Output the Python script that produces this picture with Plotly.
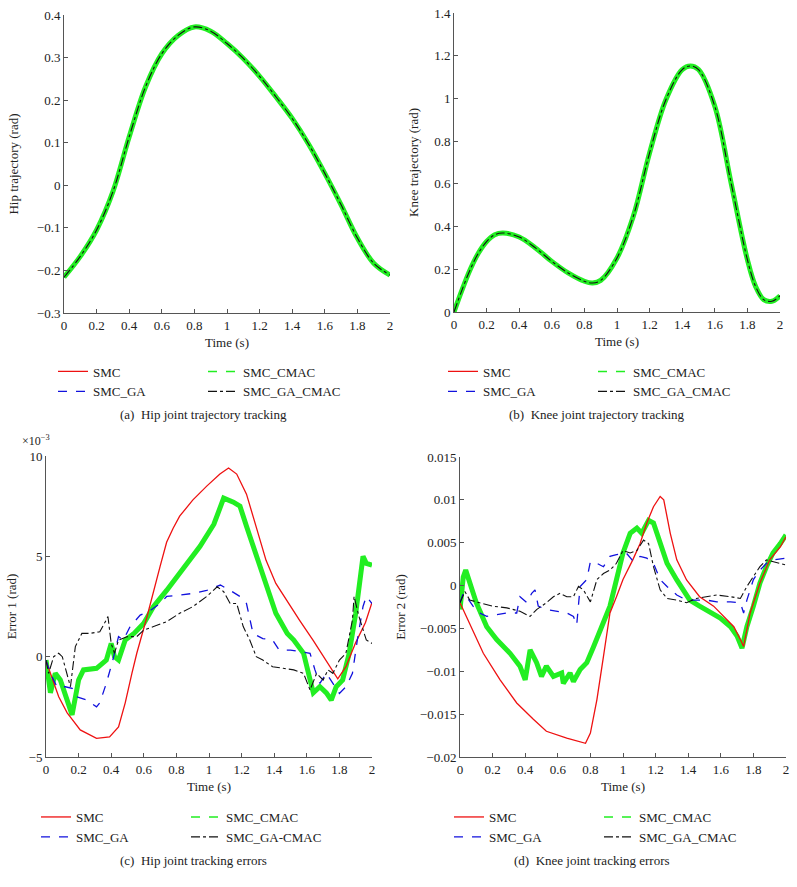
import plotly.graph_objects as go

FONT = "Liberation Serif"
W, H = 797, 887
TXT = "#222222"
AX = "#555555"

# ---------------- (a) hip trajectory (rad) ----------------
hip_t = [0, 0.1, 0.2, 0.3, 0.4, 0.5, 0.6, 0.7, 0.8, 0.9, 1.0, 1.1, 1.2, 1.3, 1.4, 1.5, 1.6, 1.7, 1.8, 1.9, 2.0]
hip_traj = [-0.216, -0.167, -0.105, -0.015, 0.114, 0.231, 0.309, 0.352, 0.372, 0.362, 0.333, 0.298,
            0.256, 0.208, 0.157, 0.097, 0.028, -0.046, -0.124, -0.183, -0.211]

# ---------------- (b) knee trajectory (rad) ----------------
knee_t = [0, 0.05, 0.1, 0.15, 0.2, 0.25, 0.3, 0.4, 0.5, 0.6, 0.7, 0.8, 0.85, 0.9, 1.0, 1.1, 1.2, 1.3,
          1.4, 1.45, 1.5, 1.6, 1.7, 1.8, 1.85, 1.9, 1.95, 2.0]
knee_traj = [0.0, 0.105, 0.2, 0.276, 0.33, 0.362, 0.37, 0.351, 0.30, 0.237, 0.183, 0.144, 0.136, 0.148,
             0.253, 0.448, 0.745, 0.994, 1.135, 1.152, 1.135, 0.963, 0.604, 0.245, 0.12, 0.058, 0.05, 0.076]

# ---------------- (c) hip tracking errors (x 10^-3 rad) ----------------
e1_smc_t = [0, 0.047, 0.078, 0.13, 0.21, 0.31, 0.39, 0.445, 0.486, 0.527, 0.557, 0.62, 0.66, 0.7, 0.74,
            0.78, 0.82, 0.9, 0.986, 1.067, 1.12, 1.17, 1.23, 1.29, 1.35, 1.41, 1.476, 1.557, 1.64, 1.72,
            1.77, 1.79, 1.84, 1.9, 1.96, 2.0]
e1_smc = [-0.2, -1.3, -2.0, -2.8, -3.65, -4.07, -4.0, -3.5, -2.3, -0.83, 0.17, 2.0, 3.3, 4.5, 5.7,
          6.4, 7.0, 7.8, 8.5, 9.1, 9.4, 9.1, 8.1, 6.4, 4.8, 3.65, 2.8, 1.8, 0.8, -0.2,
          -0.8, -1.1, -0.5, 0.7, 1.7, 2.7]

e1_ga_t = [0, 0.027, 0.067, 0.118, 0.16, 0.19, 0.25, 0.31, 0.33, 0.37, 0.41, 0.445, 0.475, 0.516, 0.578,
           0.64, 0.7, 0.74, 0.82, 0.9, 0.986, 1.07, 1.13, 1.19, 1.23, 1.27, 1.33, 1.39, 1.43, 1.5, 1.557,
           1.62, 1.65, 1.68, 1.72, 1.76, 1.8, 1.84, 1.88, 1.91, 1.945, 1.965, 2.0]
e1_ga = [-0.17, -0.83, -1.5, -1.5, -1.58, -2.0, -2.16, -2.5, -2.3, -1.33, -0.17, 1.0, 0.83, 1.5, 2.07,
         2.3, 2.65, 3.0, 3.07, 3.15, 3.3, 3.57, 3.3, 3.0, 2.65, 1.16, 0.9, 0.83, 0.33, 0.33, 0.25,
         0.17, -0.66, -1.33, -0.83, -1.33, -1.83, -1.5, -0.83, 0.83, 2.5, 3.0, 2.65]

e1_cmac_t = [0, 0.027, 0.057, 0.088, 0.16, 0.2, 0.23, 0.31, 0.37, 0.4, 0.42, 0.445, 0.486, 0.54, 0.6,
             0.66, 0.74, 0.82, 0.86, 0.945, 1.03, 1.09, 1.15, 1.19, 1.23, 1.29, 1.35, 1.41, 1.48, 1.52,
             1.58, 1.64, 1.68, 1.72, 1.75, 1.78, 1.82, 1.86, 1.9, 1.945, 1.965, 2.0]
e1_cmac = [-0.17, -1.8, -0.83, -1.16, -2.9, -1.16, -0.66, -0.58, -0.17, 0.66, 0.0, -0.17, 0.83, 1.16, 1.66,
           2.5, 3.3, 4.15, 4.5, 5.5, 6.6, 7.9, 7.7, 7.5, 6.5, 5.0, 3.65, 2.16, 1.16, 0.83,
           0.17, -1.8, -1.5, -1.8, -2.16, -1.5, -1.16, 0.17, 2.16, 5.0, 4.65, 4.56]

e1_gacmac_t = [0, 0.016, 0.047, 0.078, 0.1, 0.13, 0.15, 0.18, 0.22, 0.27, 0.33, 0.37, 0.38, 0.4, 0.42,
               0.445, 0.5, 0.557, 0.6, 0.66, 0.74, 0.82, 0.9, 0.986, 1.05, 1.09, 1.13, 1.17, 1.21, 1.25,
               1.29, 1.33, 1.39, 1.455, 1.52, 1.58, 1.62, 1.66, 1.7, 1.73, 1.76, 1.8, 1.84, 1.88, 1.89,
               1.92, 1.965, 2.0]
e1_gacmac = [-0.17, -0.83, 0.0, 0.17, 0.0, -0.83, -1.5, 0.5, 1.16, 1.16, 1.24, 1.83, 2.0, 0.66, 0.17,
             0.83, 1.0, 1.0, 1.33, 1.5, 1.74, 2.16, 2.49, 3.0, 3.48, 3.24, 2.65, 2.65, 1.5, 0.83,
             0.0, -0.17, -0.5, -0.58, -0.66, -0.83, -1.66, -0.83, -1.16, -0.66, -0.83, -0.17, 0.17, 1.83, 3.0,
             2.0, 0.83, 0.66]

# ---------------- (d) knee tracking errors (rad) ----------------
e2_smc_t = [0, 0.02, 0.143, 0.246, 0.348, 0.45, 0.53, 0.655, 0.737, 0.77, 0.8, 0.84, 0.88, 0.92, 0.96,
            1.0, 1.06, 1.105, 1.146, 1.187, 1.228, 1.25, 1.29, 1.33, 1.39, 1.47, 1.556, 1.617, 1.68,
            1.72, 1.74, 1.78, 1.84, 1.9, 1.965, 2.0]
e2_smc = [-0.002, -0.0028, -0.0079, -0.011, -0.0137, -0.0156, -0.017, -0.0178, -0.0182, -0.0184, -0.0172,
          -0.0133, -0.0083, -0.0032, -0.0013, 0.0007, 0.003, 0.0049, 0.0073, 0.0092, 0.0104, 0.010,
          0.0061, 0.003, 0.00066, -0.0013, -0.0024, -0.0036, -0.0048, -0.0063, -0.0071, -0.0032,
          0.0003, 0.003, 0.0045, 0.0057]

e2_ga_t = [0, 0.02, 0.04, 0.08, 0.12, 0.164, 0.225, 0.287, 0.348, 0.368, 0.41, 0.44, 0.46, 0.48, 0.53,
           0.594, 0.655, 0.696, 0.716, 0.737, 0.778, 0.8, 0.84, 0.88, 0.92, 0.96, 1.02, 1.064, 1.105,
           1.146, 1.187, 1.228, 1.27, 1.33, 1.39, 1.45, 1.515, 1.576, 1.66, 1.72, 1.74, 1.76, 1.8,
           1.84, 1.88, 1.92, 2.0]
e2_ga = [-0.002, -0.0009, -0.0013, -0.0024, -0.0032, -0.0036, -0.0034, -0.0032, -0.0032, -0.0013, -0.002,
         -0.0009, -0.0005, -0.0024, -0.0028, -0.003, -0.0032, -0.0036, -0.0046, -0.0001, 0.0007, 0.0028,
         0.0026, 0.0022, 0.0034, 0.0036, 0.0038, 0.0028, 0.0034, 0.0032, 0.0026, 0.0007, -0.0001,
         -0.0011, -0.0017, -0.0017, -0.0017, -0.0019, -0.0019, -0.002, -0.0032, -0.0017, 0.0007,
         0.0018, 0.0026, 0.003, 0.0032]

e2_cmac_t = [0, 0.02, 0.035, 0.06, 0.1, 0.164, 0.225, 0.307, 0.368, 0.4, 0.43, 0.47, 0.5, 0.53, 0.573,
             0.624, 0.634, 0.675, 0.696, 0.737, 0.778, 0.82, 0.86, 0.92, 0.96, 1.0, 1.044, 1.085, 1.115,
             1.157, 1.187, 1.228, 1.27, 1.33, 1.41, 1.47, 1.535, 1.597, 1.66, 1.7, 1.73, 1.76, 1.8,
             1.84, 1.88, 1.92, 1.965, 2.0]
e2_cmac = [-0.0028, 0.001, 0.0018, 0.0003, -0.002, -0.0048, -0.0063, -0.0079, -0.0094, -0.011, -0.0075,
           -0.009, -0.0106, -0.0094, -0.0106, -0.0102, -0.0114, -0.0102, -0.0112, -0.0098, -0.009,
           -0.0071, -0.0052, -0.0024, 0.0007, 0.0038, 0.0061, 0.0067, 0.0061, 0.0076, 0.0073, 0.0049,
           0.0026, 0.00066, -0.0017, -0.0024, -0.0032, -0.0038, -0.0048, -0.0059, -0.0073, -0.0048,
           -0.0024, 0.0003, 0.0022, 0.0038, 0.0049, 0.0059]

e2_gacmac_t = [0, 0.03, 0.06, 0.12, 0.2, 0.287, 0.368, 0.43, 0.47, 0.53, 0.573, 0.614, 0.655, 0.696,
               0.727, 0.757, 0.8, 0.84, 0.88, 0.92, 0.96, 1.0, 1.044, 1.085, 1.126, 1.157, 1.187, 1.228,
               1.27, 1.33, 1.39, 1.45, 1.515, 1.576, 1.66, 1.72, 1.76, 1.8, 1.84, 1.88, 1.92, 2.0]
e2_gacmac = [-0.002, -0.0007, -0.0017, -0.002, -0.0024, -0.0026, -0.003, -0.0036, -0.0028, -0.002,
             -0.0013, -0.0009, -0.0013, -0.0013, -0.0001, -0.0005, -0.0019, 0.0007, 0.0014, 0.0018,
             0.0026, 0.0041, 0.0038, 0.0041, 0.0053, 0.0049, 0.0022, -0.0005, -0.0015, -0.0017, -0.002,
             -0.0015, -0.0013, -0.0011, -0.0013, -0.0015, -0.0001, 0.001, 0.0022, 0.003, 0.0028, 0.0024]

NAMES = ["SMC", "SMC_GA", "SMC_CMAC", "SMC_GA_CMAC"]
NAMES_C = ["SMC", "SMC_GA", "SMC_CMAC", "SMC_GA-CMAC"]

RED, BLUE, GREEN, BLACK = "#ee1111", "#1111dd", "#22ee22", "#111111"

fig = go.Figure()


def add_panel(k, series, names, green_first):
    xa = "x" if k == 1 else f"x{k}"
    ya = "y" if k == 1 else f"y{k}"
    la = f"legend{2 * k - 1}" if k > 1 else "legend"
    lb = f"legend{2 * k}"
    styles = {
        0: dict(color=RED, width=1.3, dash="solid"),
        1: dict(color=BLUE, width=1.3, dash="dash"),
        2: dict(color=GREEN, width=5, dash="solid"),
        3: dict(color=BLACK, width=1.1, dash="dashdot"),
    }
    order = [2, 0, 1, 3] if green_first else [0, 1, 2, 3]
    for i in order:
        t, v = series[i]
        fig.add_trace(go.Scatter(
            x=t, y=v, mode="lines", name=names[i], xaxis=xa, yaxis=ya,
            line=dict(styles[i], shape="linear" if green_first else "spline"),
            showlegend=False, hoverinfo="skip"))
    # legend entries (column 1: SMC, SMC_GA ; column 2: SMC_CMAC, SMC_GA_CMAC)
    leg_styles = {
        0: dict(color=RED, width=1.3, dash="solid"),
        1: dict(color=BLUE, width=1.3, dash="dash"),
        2: dict(color=GREEN, width=1.5, dash="dash"),
        3: dict(color=BLACK, width=1.1, dash="dashdot"),
    }
    for i, lg in [(0, la), (1, la), (2, lb), (3, lb)]:
        fig.add_trace(go.Scatter(
            x=[None], y=[None], mode="lines", name=names[i], xaxis=xa, yaxis=ya,
            line=leg_styles[i], legend=lg, showlegend=True))


add_panel(1, [(hip_t, hip_traj)] * 4, NAMES, False)
add_panel(2, [(knee_t, knee_traj)] * 4, NAMES, False)
add_panel(3, [(e1_smc_t, e1_smc), (e1_ga_t, e1_ga), (e1_cmac_t, e1_cmac), (e1_gacmac_t, e1_gacmac)],
          NAMES_C, True)
add_panel(4, [(e2_smc_t, e2_smc), (e2_ga_t, e2_ga), (e2_cmac_t, e2_cmac), (e2_gacmac_t, e2_gacmac)],
          NAMES, True)


def px_x(a, b):
    return [a / W, b / W]


def px_y(top, bottom):
    return [1 - bottom / H, 1 - top / H]


tickfont = dict(family=FONT, size=13, color=TXT)
titlefont = dict(family=FONT, size=13, color=TXT)


def xaxis(dom, anchor):
    return dict(domain=dom, anchor=anchor, range=[0, 2], dtick=0.2, tick0=0, automargin=False,
                showline=True, linecolor=AX, linewidth=1, ticks="inside", ticklen=4,
                tickcolor=AX, showgrid=False, zeroline=False, tickfont=tickfont,
                title=dict(text="Time (s)", font=titlefont, standoff=6))


def yaxis(dom, anchor, rng, dtick, title, standoff):
    return dict(domain=dom, anchor=anchor, range=rng, dtick=dtick, tick0=0, automargin=False,
                showline=True, linecolor=AX, linewidth=1, ticks="inside", ticklen=4,
                tickcolor=AX, showgrid=False, zeroline=False, tickfont=tickfont,
                title=dict(text=title, font=titlefont, standoff=standoff))


def legend(text_x, mid_y):
    return dict(x=(text_x - 40) / W, y=1 - mid_y / H, xanchor="left", yanchor="middle",
                orientation="v", bgcolor="rgba(0,0,0,0)", borderwidth=0, tracegroupgap=0,
                font=dict(family=FONT, size=13, color=TXT))


fig.update_layout(
    width=W, height=H, margin=dict(l=0, r=0, t=0, b=0, pad=0, autoexpand=False),
    paper_bgcolor="white", plot_bgcolor="white",
    font=dict(family=FONT, size=13, color=TXT),
    xaxis=xaxis(px_x(64, 390), "y"),
    yaxis=yaxis(px_y(15, 313), "x", [-0.3, 0.4], 0.1, "Hip trajectory (rad)", 15),
    xaxis2=xaxis(px_x(454, 780), "y2"),
    yaxis2=yaxis(px_y(13, 312), "x2", [0, 1.4], 0.2, "Knee trajectory (rad)", 12),
    xaxis3=xaxis(px_x(46, 372), "y3"),
    yaxis3=yaxis(px_y(456, 757), "x3", [-5, 10], 5, "Error 1 (rad)", 9),
    xaxis4=xaxis(px_x(460, 786), "y4"),
    yaxis4=yaxis(px_y(457, 757), "x4", [-0.02, 0.015], 0.005, "Error 2 (rad)", 11),
    legend=legend(93, 381.5), legend2=legend(243, 381.5),
    legend3=legend(483, 381.5), legend4=legend(633, 381.5),
    legend5=legend(76, 827), legend6=legend(226, 827),
    legend7=legend(489, 827), legend8=legend(639, 827),
)

captions = [
    ("(a)\u00a0\u00a0Hip joint trajectory tracking", 203, 414),
    ("(b)\u00a0\u00a0Knee joint trajectory tracking", 597, 414),
    ("(c)\u00a0\u00a0Hip joint tracking errors", 193, 860),
    ("(d)\u00a0\u00a0Knee joint tracking errors", 592, 860),
]
for text, cx, cy in captions:
    fig.add_annotation(text=text, x=cx / W, y=1 - cy / H, xref="paper", yref="paper",
                       xanchor="center", yanchor="middle", showarrow=False,
                       font=dict(family=FONT, size=13, color=TXT))

fig.add_annotation(text="×10<sup>−3</sup>", x=20 / W, y=1 - 440 / H, xref="paper", yref="paper",
                   xanchor="left", yanchor="middle", showarrow=False,
                   font=dict(family=FONT, size=12, color=TXT))

fig.write_html("out.html", config={"displayModeBar": False},
               post_script="document.body.style.margin='0';")
